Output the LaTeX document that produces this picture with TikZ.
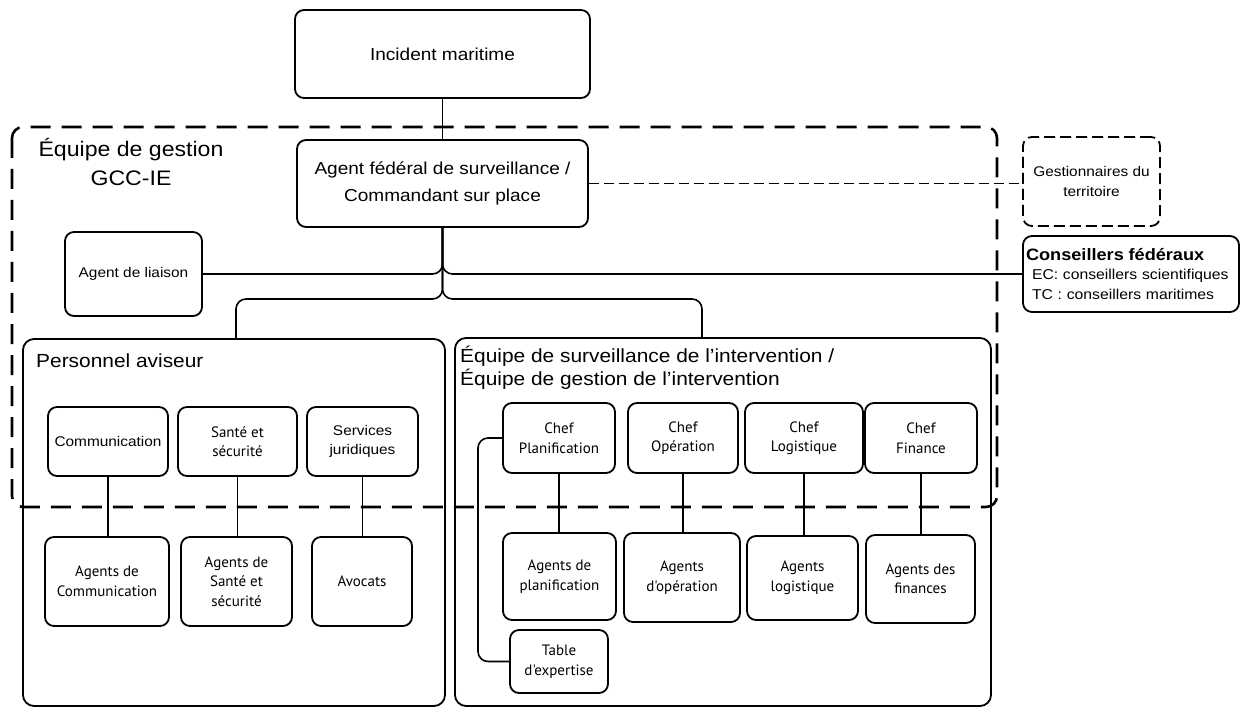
\documentclass[tikz,border=0pt]{standalone}
\usepackage{fontspec}
\setmainfont{Liberation Sans}[FakeStretch=1.1]
\newfontfamily\humsans{PT Sans}
\usetikzlibrary{calc}

% type sizes (1pt = 1 unit of the drawing)
\newcommand\ftTitle{\fontsize{21}{29}\selectfont}
\newcommand\ftHead{\fontsize{17.3}{27}\selectfont}
\newcommand\ftSec{\fontsize{19}{23}\selectfont}
\newcommand\ftSmall{\fontsize{14}{19.5}\selectfont}
\newcommand\ftAdv{\fontsize{14.3}{19.5}\selectfont}
\newcommand\ftHum{\humsans\fontsize{15}{19.5}\selectfont}
\newcommand\ftBold{\bfseries\fontsize{16.5}{19.5}\selectfont}

\begin{document}
\begin{tikzpicture}[x=1pt,y=-1pt,
  box/.style={draw, line width=1.8pt, rounded corners=9pt, align=center, inner sep=0pt},
  bigbox/.style={draw, line width=1.8pt, rounded corners=11pt, inner sep=0pt},
  dbox/.style={box, dash pattern=on 11pt off 5pt},
  link/.style={line width=1.6pt},
  thindash/.style={line width=1.3pt, dash pattern=on 10pt off 5pt},
  frame/.style={line width=2.6pt, dash pattern=on 20pt off 11pt, rounded corners=11pt},
  title/.style={inner sep=0pt}
]
\useasboundingbox (0,0) rectangle (1241,708);

% GCC-IE management team frame
\draw[frame] (12,127) rectangle (997,507);

% top of the chain
\node[box, minimum width=295pt, minimum height=88pt, font=\ftHead] (inc) at (442.5,54) {Incident maritime};
\node[box, minimum width=291pt, minimum height=87pt, font=\ftHead] (afs) at (442.5,183.5)
  {Agent fédéral de surveillance /\\Commandant sur place};
\node[title, align=center, anchor=base, font=\ftTitle] (gcc) at (131,186) {Équipe de gestion\\GCC-IE};

\node[box, minimum width=137pt, minimum height=84pt, font=\ftSmall] (liaison) at (133.5,274) {Agent de liaison};
\node[dbox, minimum width=137pt, minimum height=89pt, font=\ftSmall] (gest) at (1091.5,181.5)
  {Gestionnaires du\\territoire};
\node[box, text width=210pt, inner xsep=3pt, minimum height=76pt, align=left, font=\ftAdv] (cons) at (1131,274)
  {{\ftBold Conseillers fédéraux}\\\hspace*{6pt}EC: conseillers scientifiques\\\hspace*{6pt}TC : conseillers maritimes};

% the two teams
\node[bigbox, minimum width=422pt, minimum height=367pt] (pers) at (234,522.5) {};
\node[bigbox, minimum width=536pt, minimum height=368pt] (equipe) at (723,522) {};
\node[title, anchor=base west, font=\ftSec] (persT) at (36,367) {Personnel aviseur};
\node[title, align=left, anchor=base west, font=\ftSec] (equipeT) at (460,385)
  {Équipe de surveillance de l'intervention /\\Équipe de gestion de l'intervention};

% advisory staff
\node[box, minimum width=120pt, minimum height=69pt, font=\ftSmall] (comm) at (108,441.5) {Communication};
\node[box, minimum width=119pt, minimum height=69pt, font=\ftHum] (sante) at (237.5,441.5) {Santé et\\sécurité};
\node[box, minimum width=111pt, minimum height=69pt, font=\ftSmall] (serv) at (362.5,441.5) {Services\\juridiques};
\node[box, minimum width=124pt, minimum height=89pt, font=\ftHum] (acomm) at (107,581.5) {Agents de\\Communication};
\node[box, minimum width=111pt, minimum height=89pt, font=\ftHum] (asante) at (236.5,581.5) {Agents de\\Santé et\\sécurité};
\node[box, minimum width=100pt, minimum height=89pt, font=\ftHum] (avoc) at (362,581.5) {Avocats};

% response team
\node[box, minimum width=112pt, minimum height=70pt, font=\ftHum] (cplan) at (559,438) {Chef\\Planification};
\node[box, minimum width=110pt, minimum height=70pt, font=\ftHum] (cop) at (683,438) {Chef\\Opération};
\node[box, minimum width=118pt, minimum height=70pt, font=\ftHum] (clog) at (804,438) {Chef\\Logistique};
\node[box, minimum width=112pt, minimum height=70pt, font=\ftHum] (cfin) at (921,438) {Chef\\Finance};
\node[box, minimum width=113pt, minimum height=87pt, font=\ftHum] (aplan) at (559.5,576.5) {Agents de\\planification};
\node[box, minimum width=116pt, minimum height=89pt, font=\ftHum] (aop) at (682,577.5) {Agents\\d'opération};
\node[box, minimum width=111pt, minimum height=84pt, font=\ftHum] (alog) at (802.5,578) {Agents\\logistique};
\node[box, minimum width=109pt, minimum height=88pt, font=\ftHum] (afin) at (920.5,579) {Agents des\\finances};
\node[box, minimum width=98pt, minimum height=63pt, font=\ftHum] (table) at (559,661.5) {Table\\d'expertise};

% connectors
\draw[link] (inc.south) -- (afs.north);
\draw[link, rounded corners=10pt] (afs.south) |- (liaison.east);
\draw[link, rounded corners=10pt] (afs.south) |- (cons.west);
\coordinate (jl) at (236,299);
\coordinate (jr) at (702,299);
\draw[link, rounded corners=10pt] (afs.south) |- (jl) -- (jl |- pers.north);
\draw[link, rounded corners=10pt] (afs.south) |- (jr) -- (jr |- equipe.north);
\draw[thindash] (afs.east) -- (afs.east -| gest.west);

\draw[link] (comm.south) -- (comm.south |- acomm.north);
\draw[link] (sante.south) -- (sante.south |- asante.north);
\draw[link] (serv.south) -- (serv.south |- avoc.north);

\draw[link] (cplan.south) -- (cplan.south |- aplan.north);
\draw[link] (cop.south) -- (cop.south |- aop.north);
\draw[link] (clog.south) -- (clog.south |- alog.north);
\draw[link] (cfin.south) -- (cfin.south |- afin.north);
\coordinate (brk) at (478,0);
\draw[link, rounded corners=10pt] (cplan.west) -| (brk |- table.west) -- (table.west);
\end{tikzpicture}
\end{document}
